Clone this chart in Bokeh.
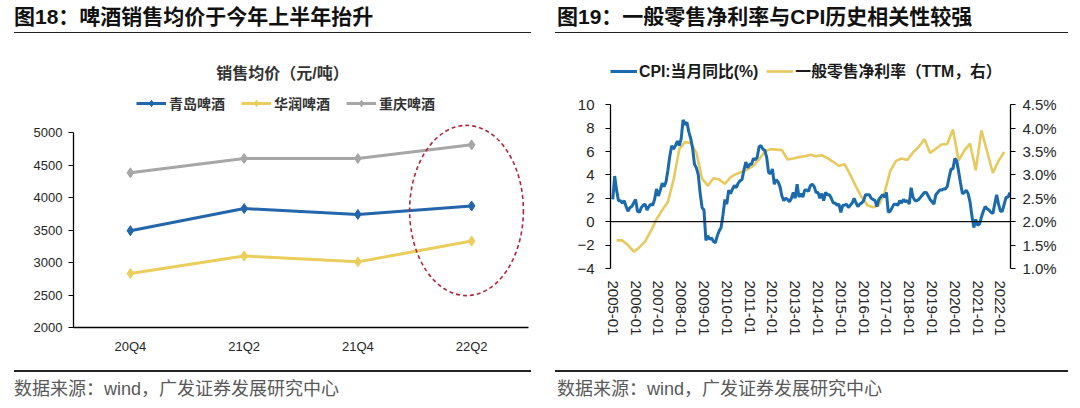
from bokeh.plotting import figure
from bokeh.models import (Range1d, FactorRange, LinearAxis, Label, Legend, LegendItem,
                          Span, FixedTicker, PrintfTickFormatter, Div)
from bokeh.transform import dodge
from bokeh.layouts import row, column
from bokeh.embed import file_html
from bokeh.resources import INLINE

SANS = "Liberation Sans, Noto Sans CJK SC"
CJK = "Noto Sans CJK SC, Liberation Sans"
LAT = "Liberation Sans"

# ---------------- Figure 18 data ----------------
quarters = ["20Q4", "21Q2", "21Q4", "22Q2"]
tsingtao = [3490, 3830, 3740, 3870]
cr_beer = [2830, 3100, 3010, 3330]
chongqing = [4380, 4600, 4600, 4810]
price_ticks = [2000, 2500, 3000, 3500, 4000, 4500, 5000]

# ---------------- Figure 19 data ----------------
cpi_yoy = [
    1.9, 3.9, 2.7, 1.8, 1.8, 1.6, 1.8, 1.3, 0.9, 1.2, 1.3, 1.6,   # 2005
    1.9, 0.9, 0.8, 1.2, 1.4, 1.5, 1.0, 1.3, 1.5, 1.4, 1.9, 2.8,   # 2006
    2.2, 2.7, 3.3, 3.0, 3.4, 4.4, 5.6, 6.5, 6.2, 6.5, 6.9, 6.5,   # 2007
    7.1, 8.7, 8.3, 8.5, 7.7, 7.1, 6.3, 4.9, 4.6, 4.0, 2.4, 1.2,   # 2008
    1.0, -1.6, -1.2, -1.5, -1.4, -1.7, -1.8, -1.2, -0.8, -0.5, 0.6, 1.9,  # 2009
    1.5, 2.7, 2.4, 2.8, 3.1, 2.9, 3.3, 3.5, 3.6, 4.4, 5.1, 4.6,   # 2010
    4.9, 4.9, 5.4, 5.3, 5.5, 6.4, 6.5, 6.2, 6.1, 5.5, 4.2, 4.1,   # 2011
    4.5, 3.2, 3.6, 3.4, 3.0, 2.2, 1.8, 2.0, 1.9, 1.7, 2.0, 2.5,   # 2012
    2.0, 3.2, 2.1, 2.4, 2.1, 2.7, 2.7, 2.6, 3.1, 3.2, 3.0, 2.5,   # 2013
    2.5, 2.0, 2.4, 1.8, 2.5, 2.3, 2.3, 2.0, 1.6, 1.6, 1.4, 1.5,   # 2014
    0.8, 1.4, 1.4, 1.5, 1.2, 1.4, 1.6, 2.0, 1.6, 1.3, 1.5, 1.6,   # 2015
    1.8, 2.3, 2.3, 2.3, 2.0, 1.9, 1.8, 1.3, 1.9, 2.1, 2.3, 2.1,   # 2016
    2.5, 0.8, 0.9, 1.2, 1.5, 1.5, 1.4, 1.8, 1.6, 1.9, 1.7, 1.8,   # 2017
    1.5, 2.9, 2.1, 1.8, 1.8, 1.9, 2.1, 2.3, 2.5, 2.5, 2.2, 1.9,   # 2018
    1.7, 1.5, 2.3, 2.5, 2.7, 2.7, 2.8, 2.8, 3.0, 3.8, 4.5, 4.5,   # 2019
    5.4, 5.2, 4.3, 3.3, 2.4, 2.5, 2.7, 2.4, 1.7, 0.5, -0.5, 0.2,  # 2020
    -0.3, -0.2, 0.4, 0.9, 1.3, 1.1, 1.0, 0.8, 0.7, 1.5, 2.3, 1.5,  # 2021
    0.9, 0.9, 1.5, 2.1, 2.1, 2.5,                                  # 2022
]
# quarterly, 2005Q1 ... 2022Q1 (%)
margin_ttm = [
    1.60, 1.60, 1.50, 1.36, 1.45, 1.58, 1.80, 2.05, 2.25, 2.42,
    2.90, 3.55, 3.70, 3.68, 3.47, 2.92, 2.77, 2.93, 2.90, 2.81,
    2.95, 3.02, 3.07, 3.12, 3.20, 3.33, 3.50, 3.55, 3.54, 3.53,
    3.33, 3.35, 3.38, 3.40, 3.43, 3.40, 3.42, 3.36, 3.28, 3.19,
    3.23, 3.00, 2.75, 2.52, 2.35, 2.31, 2.35, 2.62, 3.08, 3.30,
    3.35, 3.32, 3.48, 3.60, 3.76, 3.47, 3.56, 3.65, 3.66, 3.97,
    3.31, 3.52, 3.67, 3.10, 3.95, 3.50, 3.04, 3.30, 3.49,
]
year_labels = [f"{y}-01" for y in range(2005, 2023)]
cpi_ticks = [-4, -2, 0, 2, 4, 6, 8, 10]
margin_ticks = [1.0, 1.5, 2.0, 2.5, 3.0, 3.5, 4.0, 4.5]

cpi_x = list(range(len(cpi_yoy)))                        # month index from 2005-01
margin_x = [3 * i + 2 for i in range(len(margin_ttm))]   # quarter-end month index

FONT_CSS = "font-family:'Liberation Sans','Noto Sans CJK SC',sans-serif;"


def header_div(text, x, rule_x, rule_w):
    html = ('<div style="position:relative;width:540px;height:34px;">'
            f'<div style="position:absolute;left:{x}px;top:6px;white-space:nowrap;{FONT_CSS}'
            'font-size:21px;font-weight:bold;line-height:22px;color:#111111;">'
            f'{text}</div>'
            f'<div style="position:absolute;left:{rule_x}px;top:31.7px;width:{rule_w}px;'
            'height:1.6px;background:#222222;"></div></div>')
    return Div(text=html, width=540, height=34, margin=0)


def footer_div(text, x, rule_x, rule_w, h):
    html = (f'<div style="position:relative;width:540px;height:{h}px;">'
            f'<div style="position:absolute;left:{rule_x}px;top:13.2px;width:{rule_w}px;'
            'height:1.6px;background:#222222;"></div>'
            f'<div style="position:absolute;left:{x}px;top:22px;white-space:nowrap;{FONT_CSS}'
            f'font-size:18px;line-height:20px;color:#595959;">{text}</div></div>')
    return Div(text=html, width=540, height=h, margin=0)


def screen_label(p, x, y, text, size, color="#111111", bold=False, align="left", font=SANS):
    p.add_layout(Label(x=x, y=y, x_units="screen", y_units="screen", text=text,
                       text_font=font, text_font_size=size, text_color=color,
                       text_font_style="bold" if bold else "normal",
                       text_align=align, text_baseline="middle"))


def style_common(p):
    p.xgrid.visible = False
    p.ygrid.visible = False
    p.outline_line_color = None
    p.background_fill_color = "white"
    p.border_fill_color = "white"


SOURCE = "数据来源：wind，广发证券发展研究中心"

# ================= Figure 18 =================
BLUE1 = "#2366ac"
YEL1 = "#ebcd5c"
GRAY1 = "#a6a6a6"

h1 = header_div("图18：啤酒销售均价于今年上半年抬升", 14, 14, 517)
f1 = footer_div(SOURCE, 14, 14, 517, 51)

p1 = figure(width=540, height=323, output_backend="svg", toolbar_location=None,
            x_range=FactorRange(*quarters, range_padding=0), y_range=Range1d(2000, 6508),
            min_border_left=73, min_border_right=12, min_border_top=0, min_border_bottom=30)
style_common(p1)

r_cq_l = p1.line(quarters, chongqing, line_color=GRAY1, line_width=3)
r_cq_s = p1.scatter(quarters, chongqing, marker="diamond", size=10, fill_color=GRAY1, line_color=GRAY1)
r_ts_l = p1.line(quarters, tsingtao, line_color=BLUE1, line_width=3)
r_ts_s = p1.scatter(quarters, tsingtao, marker="diamond", size=10, fill_color=BLUE1, line_color=BLUE1)
r_cr_l = p1.line(quarters, cr_beer, line_color=YEL1, line_width=3)
r_cr_s = p1.scatter(quarters, cr_beer, marker="diamond", size=10, fill_color=YEL1, line_color=YEL1)

# highlight ellipse around the latest quarter
p1.ellipse(x=dodge("x", -0.045, range=p1.x_range), y="y", width="w", height="h",
           source=dict(x=[quarters[-1]], y=[3800], w=[1.0], h=[2620]),
           fill_color=None, line_color="#b3263a", line_width=1.6, line_dash="4 3")

p1.yaxis.ticker = FixedTicker(ticks=price_ticks)
p1.yaxis.bounds = (2000, 5000)
for ax in (p1.xaxis[0], p1.yaxis[0]):
    ax.axis_line_color = "#000000"
    ax.axis_line_width = 1.3
    ax.major_label_text_font = LAT
    ax.major_label_text_font_size = "13px"
    ax.major_label_text_color = "#262626"
    ax.minor_tick_line_color = None
p1.yaxis.major_tick_out = 5
p1.yaxis.major_tick_in = 0
p1.yaxis.major_tick_line_color = "#000000"
p1.yaxis.major_label_standoff = 6
p1.xaxis.major_tick_out = 0
p1.xaxis.major_tick_in = 0
p1.xaxis.major_tick_line_color = None
p1.xaxis.major_label_standoff = 11

leg1 = Legend(items=[LegendItem(label="青岛啤酒", renderers=[r_ts_l, r_ts_s]),
                     LegendItem(label="华润啤酒", renderers=[r_cr_l, r_cr_s]),
                     LegendItem(label="重庆啤酒", renderers=[r_cq_l, r_cq_s])],
              location=(63, 214), orientation="horizontal", padding=0, margin=0,
              spacing=16, glyph_width=30, glyph_height=16, label_height=16, label_standoff=3,
              label_text_font=CJK, label_text_font_size="14px",
              label_text_font_style="bold", label_text_color="#333333",
              border_line_color=None, background_fill_alpha=0)
p1.add_layout(leg1)
screen_label(p1, 209, 254, "销售均价（元/吨）", "16px", color="#333333", bold=True, align="center")

# ================= Figure 19 =================
BLUE2 = "#1a6aad"
YEL2 = "#e8c95e"

h2 = header_div("图19：一般零售净利率与CPI历史相关性较强", 17, 15, 513)
f2 = footer_div(SOURCE, 17, 15, 513, 51)

p2 = figure(width=540, height=323, output_backend="svg", toolbar_location=None,
            x_range=Range1d(-1.2, 209.3), y_range=Range1d(-4, 16),
            min_border_left=70, min_border_right=70, min_border_top=0, min_border_bottom=89)
style_common(p2)
p2.extra_y_ranges = {"margin": Range1d(1.0, 6.0)}

p2.add_layout(Span(location=0, dimension="width", line_color="#111111", line_width=1.3))
r_m = p2.line(margin_x, margin_ttm, line_color=YEL2, line_width=2.6, y_range_name="margin")
r_c = p2.line(cpi_x, cpi_yoy, line_color=BLUE2, line_width=3)

rax = LinearAxis(y_range_name="margin", ticker=FixedTicker(ticks=margin_ticks),
                 formatter=PrintfTickFormatter(format="%.1f%%"), bounds=(1.0, 4.5))
p2.add_layout(rax, "right")

p2.yaxis[0].ticker = FixedTicker(ticks=cpi_ticks)
p2.yaxis[0].bounds = (-4, 10)
for ax in (p2.yaxis[0], rax):
    ax.axis_line_color = "#000000"
    ax.axis_line_width = 1.3
    ax.major_tick_out = 5
    ax.major_tick_in = 0
    ax.major_tick_line_color = "#000000"
    ax.minor_tick_line_color = None
    ax.major_label_text_font = LAT
    ax.major_label_text_font_size = "15px"
    ax.major_label_text_color = "#262626"
p2.yaxis[0].major_label_standoff = 11
rax.major_label_standoff = 7

xa = p2.xaxis[0]
xa.ticker = FixedTicker(ticks=[12 * k for k in range(len(year_labels))])
xa.major_label_overrides = {12 * k: lab for k, lab in enumerate(year_labels)}
xa.major_label_orientation = "vertical"
xa.axis_line_color = None
xa.major_tick_line_color = None
xa.minor_tick_line_color = None
xa.major_tick_out = 0
xa.major_tick_in = 0
xa.major_label_standoff = 12
xa.major_label_text_font = LAT
xa.major_label_text_font_size = "15px"
xa.major_label_text_color = "#262626"

leg2 = Legend(items=[LegendItem(label="CPI:当月同比(%)", renderers=[r_c]),
                     LegendItem(label="一般零售净利率（TTM，右）", renderers=[r_m])],
              location=(0, 186), orientation="horizontal", padding=0, margin=0,
              spacing=8, glyph_width=27, glyph_height=18, label_height=18, label_standoff=2,
              label_text_font=SANS, label_text_font_size="15.8px",
              label_text_font_style="bold", label_text_color="#1a1a1a",
              border_line_color=None, background_fill_alpha=0)
p2.add_layout(leg2)

layout = row(column(h1, p1, f1, spacing=0), column(h2, p2, f2, spacing=0), spacing=0)
open("out.html", "w").write(file_html(layout, INLINE))
